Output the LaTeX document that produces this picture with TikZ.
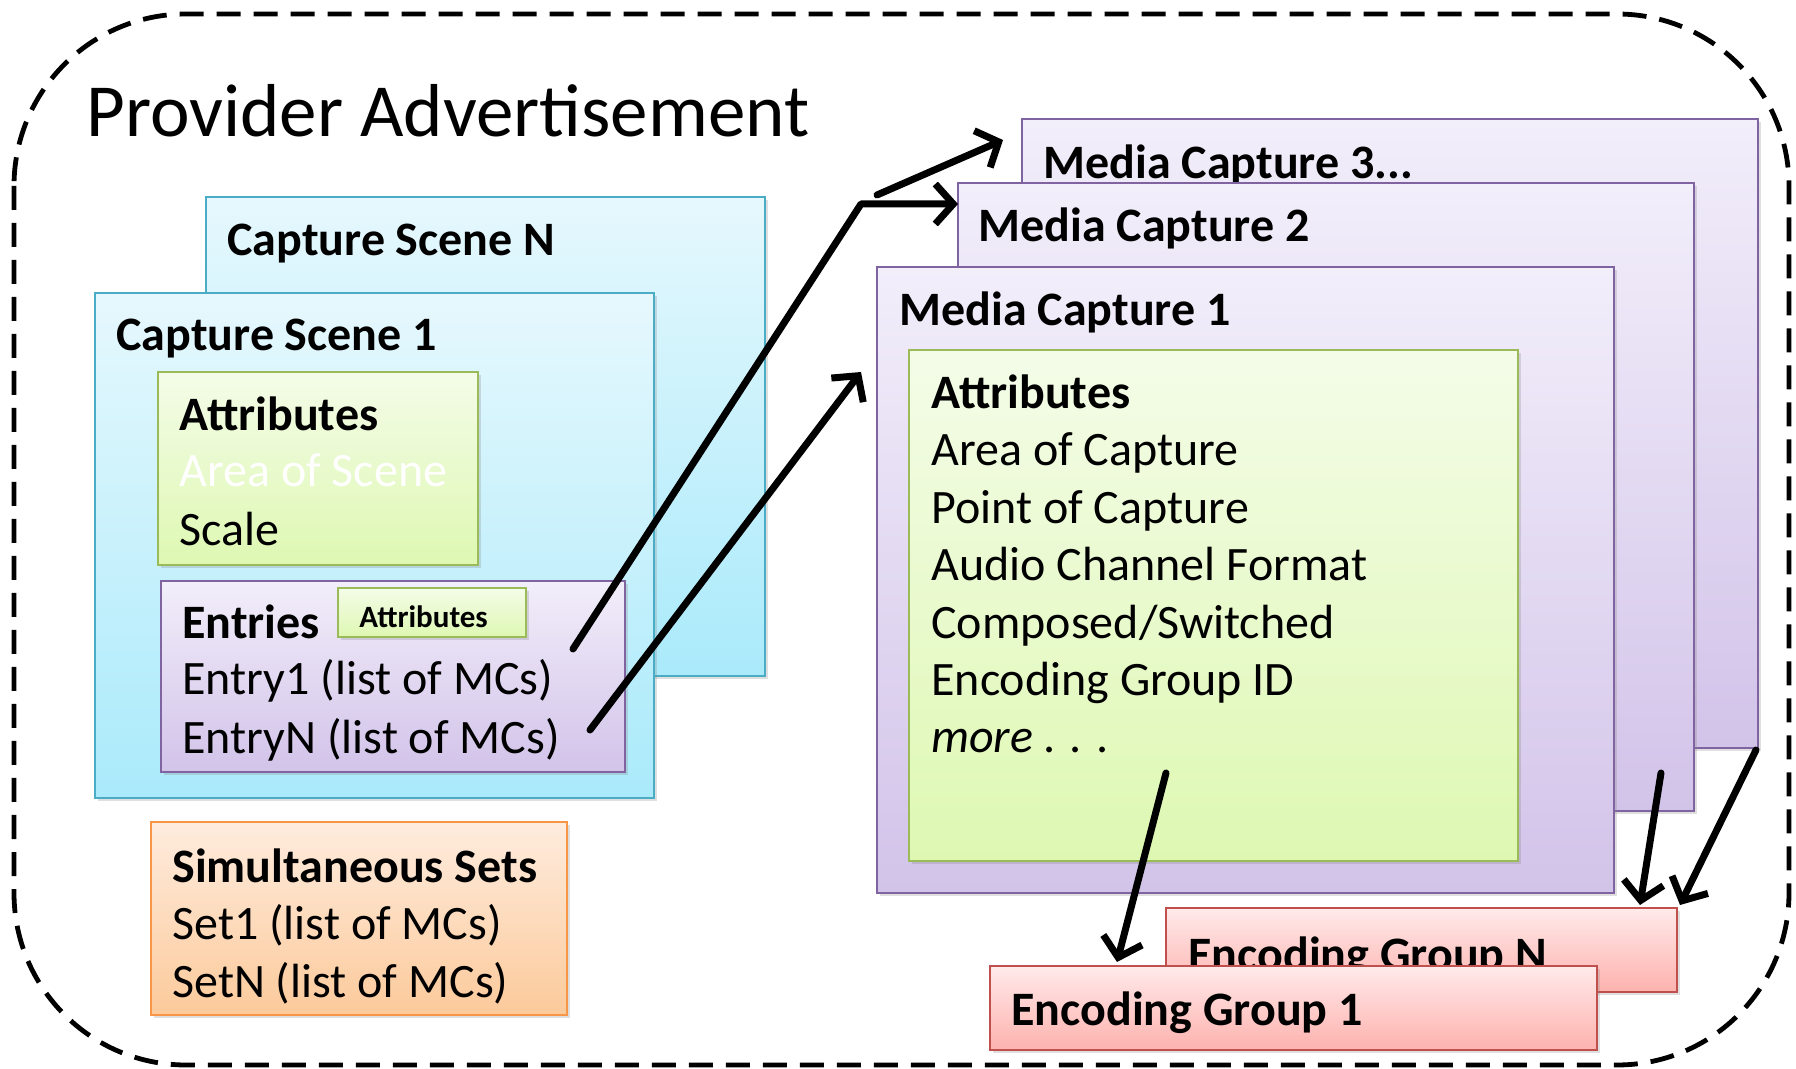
\documentclass[tikz,border=0pt]{standalone}
\usepackage{fontspec}
\setmainfont{Carlito}
\usetikzlibrary{arrows.meta,shadows}
\definecolor{bluetop}{RGB}{230,248,253}
\definecolor{bluebot}{RGB}{170,234,251}
\definecolor{blueln}{RGB}{75,172,198}
\definecolor{purtop}{RGB}{242,238,250}
\definecolor{purbot}{RGB}{210,195,233}
\definecolor{purln}{RGB}{128,100,162}
\definecolor{grntop}{RGB}{244,252,232}
\definecolor{grnbot}{RGB}{222,248,178}
\definecolor{grnln}{RGB}{155,187,89}
\definecolor{orgtop}{RGB}{254,236,222}
\definecolor{orgbot}{RGB}{252,202,155}
\definecolor{orgln}{RGB}{247,150,70}
\definecolor{redtop}{RGB}{255,234,234}
\definecolor{redbot}{RGB}{253,178,174}
\definecolor{redln}{RGB}{192,80,77}
\newcommand\mkbox[6]{\node[#6, minimum width={(#4-#2)*0.5pt}, minimum height={(#5-#3)*0.5pt}] (#1) at ({(#2+#4)/2},{(#3+#5)/2}) {};}
\tikzset{
  panel/.style={inner sep=0pt, outer sep=0pt, line width=0.8pt,
    drop shadow={shadow xshift=1.5pt, shadow yshift=-1.5pt, opacity=0.25}},
  bluebox/.style={panel, draw=blueln, top color=bluetop, bottom color=bluebot},
  purbox/.style={panel, draw=purln, top color=purtop, bottom color=purbot},
  grnbox/.style={panel, draw=grnln, top color=grntop, bottom color=grnbot},
  orgbox/.style={panel, draw=orgln, top color=orgtop, bottom color=orgbot},
  redbox/.style={panel, draw=redln, top color=redtop, bottom color=redbot},
  lbl/.style={anchor=base west, inner sep=0pt, font=\fontsize{24}{28}\selectfont},
  hd/.style={anchor=base west, inner sep=0pt, font=\fontsize{24}{28}\selectfont\bfseries},
  arr/.style={line width=3.5pt, line cap=round, line join=round,
    -{Straight Barb[length=9pt,width=20pt,line width=3.5pt]}},
  border/.style={line width=2.4pt, dash pattern=on 12pt off 6.5pt, rounded corners=86pt}
}
\begin{document}
\begin{tikzpicture}[x=0.5pt,y=-0.5pt]
\useasboundingbox (0,0) rectangle (1796,1069);
\draw[border] (14,14) rectangle (1789,1065);
\node[anchor=base west, inner sep=0pt, font=\fontsize{37.5}{44}\selectfont] (title) at (86,137) {Provider Advertisement};

% capture scenes
\mkbox{csN}{206}{197}{765}{676}{bluebox}
\node[hd] (csNt) at (227,256) {Capture Scene N};
\mkbox{csA}{95}{293}{654}{798}{bluebox}
\node[hd] (csAt) at (116,351) {Capture Scene 1};
\mkbox{csattr}{158}{372}{478}{565}{grnbox}
\node[hd] (ca1) at (179,431) {Attributes};
\node[lbl, text=white] (ca2) at (179,487) {Area of Scene};
\node[lbl] (ca3) at (179,546) {Scale};
\mkbox{entries}{161}{581}{625}{772}{purbox}
\node[hd] (en1) at (182,639) {Entries};
\mkbox{sattr}{338}{588}{526}{637}{grnbox}
\node[anchor=base west, inner sep=0pt, font=\fontsize{15.5}{18}\selectfont\bfseries] (sat) at (359,628) {Attributes};
\node[lbl] (en2) at (182,695) {Entry1 (list of MCs)};
\node[lbl] (en3) at (182,754) {EntryN (list of MCs)};

\mkbox{sim}{151}{822}{567}{1015}{orgbox}
\node[hd] (s1) at (172,882) {Simultaneous Sets};
\node[lbl] (s2) at (172,939) {Set1 (list of MCs)};
\node[lbl] (s3) at (172,997) {SetN (list of MCs)};

% media captures
\mkbox{mc3}{1022}{119}{1758}{748}{purbox}
\node[hd] (mc3t) at (1043,179) {Media Capture 3...};
\mkbox{mc2}{958}{183}{1694}{811}{purbox}
\node[hd] (mc2t) at (978,242) {Media Capture 2};
\mkbox{mc1}{877}{267}{1614}{893}{purbox}
\node[hd] (mc1t) at (899,326) {Media Capture 1};
\mkbox{mattr}{909}{350}{1518}{861}{grnbox}
\node[hd] (m1) at (931,409) {Attributes};
\node[lbl] (m2) at (931,466) {Area of Capture};
\node[lbl] (m3) at (931,524) {Point of Capture};
\node[lbl] (m4) at (931,581) {Audio Channel Format};
\node[lbl] (m5) at (931,639) {Composed/Switched};
\node[lbl] (m6) at (931,696) {Encoding Group ID};
\node[lbl, font=\fontsize{24}{28}\selectfont\itshape] (m7) at (931,753) {more . . .};

% arrows from entries
\coordinate (e1s) at (573,649);
\coordinate (cor) at (861,204);
\coordinate (cor3) at (877,195);
\coordinate (mc3e) at (1003,140);
\coordinate (e2s) at (590,730);
\coordinate (e2e) at (861,372);
\draw[arr] (e1s) -- (cor) -- (mc2.west |- cor);
\draw[arr] (cor3) -- (mc3e);
\draw[arr] (e2s) -- (e2e);

% encoding groups
\mkbox{egN}{1166}{908}{1677}{992}{redbox}
\node[hd] (egNt) at (1188,970) {Encoding Group N};
\mkbox{egA}{990}{966}{1597}{1050}{redbox}
\node[hd] (egAt) at (1011,1025) {Encoding Group 1};

\coordinate (a3s) at (1166,773);
\coordinate (a3e) at (1117,962);
\coordinate (a4s) at (1661,773);
\coordinate (a4e) at (1640,905);
\coordinate (a5s) at (1756,750);
\coordinate (a5e) at (1680,905);
\draw[arr] (a3s) -- (a3e);
\draw[arr] (a4s) -- (a4e);
\draw[arr] (a5s) -- (a5e);
\end{tikzpicture}
\end{document}
